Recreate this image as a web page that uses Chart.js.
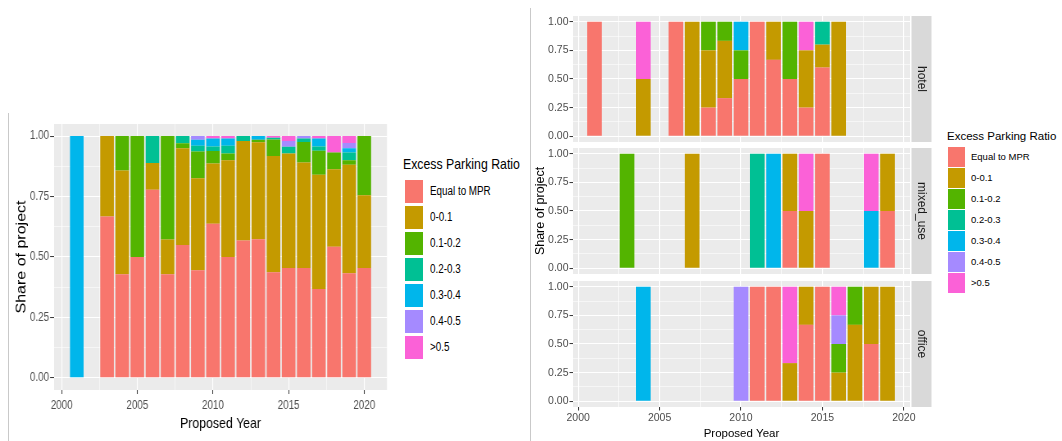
<!DOCTYPE html>
<html>
<head>
<meta charset="utf-8">
<script src="https://cdn.jsdelivr.net/npm/chart.js@4.4.1/dist/chart.umd.min.js"></script>
<style>
  html, body { margin: 0; padding: 0; background: #ffffff; }
  #page { position: relative; width: 1062px; height: 441px; overflow: hidden; background: #ffffff; }
  .rule { position: absolute; width: 1px; background: #C9C9C9; }
  canvas { position: absolute; display: block; }
  .lg { position: absolute; white-space: nowrap; color: #000000; }
  .key { position: absolute; }
  /* the overall chart is laid out wide and drawn horizontally condensed */
  #allChart { transform: scaleX(0.8195); transform-origin: 0 0; }
</style>
</head>
<body>
<div id="page">
  <div class="rule" style="left:8px; top:113px; height:328px;"></div>
  <div class="rule" style="left:530px; top:8px; height:433px;"></div>
  <canvas id="allChart" width="482" height="331" style="left:0; top:110px;"></canvas>
  <canvas id="hotelChart" width="402" height="132" style="left:530px; top:10px;"></canvas>
  <canvas id="mixedChart" width="402" height="132" style="left:530px; top:142px;"></canvas>
  <canvas id="officeChart" width="402" height="166" style="left:530px; top:275px;"></canvas>
  <div id="legendAll"></div>
  <div id="legendFacet"></div>
</div>
<script>
// ---- categories, tick labels ----
const categories = ['Equal to MPR', '0-0.1', '0.1-0.2', '0.2-0.3', '0.3-0.4', '0.4-0.5', '>0.5'];
const palette = ['#F8766D', '#C49A00', '#53B400', '#00C094', '#00B6EB', '#A58AFF', '#FB61D7'];
const xTicks = [2000, 2005, 2010, 2015, 2020];
const yTicks = [0, 0.25, 0.5, 0.75, 1];

// ---- all projects: share of projects per proposed year ----
const allYears   = [2001, 2003, 2004, 2005, 2006, 2007, 2008, 2009, 2010, 2011, 2012, 2013, 2014, 2015, 2016, 2017, 2018, 2019, 2020];
const allEqual   = [0, 0.667, 0.429, 0.5, 0.778, 0.429, 0.55, 0.445, 0.638, 0.5, 0.568, 0.573, 0.437, 0.455, 0.455, 0.368, 0.542, 0.433, 0.455];
const allR00_01  = [0, 0.333, 0.429, 0, 0.111, 0.143, 0.40, 0.381, 0.249, 0.40, 0.412, 0.402, 0.481, 0.473, 0.436, 0.472, 0.321, 0.448, 0.30];
const allR01_02  = [0, 0, 0.142, 0.5, 0, 0.428, 0.02, 0.11, 0.051, 0.028, 0, 0.01, 0.068, 0, 0.085, 0.099, 0.069, 0.019, 0.245];
const allR02_03  = [0, 0, 0, 0, 0.111, 0, 0.03, 0.024, 0.019, 0.032, 0.02, 0, 0.007, 0.028, 0.014, 0.018, 0, 0.032, 0];
const allR03_04  = [1, 0, 0, 0, 0, 0, 0, 0.025, 0.033, 0.03, 0, 0.015, 0, 0, 0, 0.033, 0, 0.018, 0];
const allR04_05  = [0, 0, 0, 0, 0, 0, 0, 0.015, 0, 0, 0, 0, 0, 0.024, 0.01, 0, 0, 0.021, 0];
const allR05     = [0, 0, 0, 0, 0, 0, 0, 0, 0.010, 0.010, 0, 0, 0.007, 0.02, 0, 0.01, 0.068, 0.029, 0];

// ---- hotel ----
const hotelYears  = [2001, 2004, 2006, 2007, 2008, 2009, 2010, 2011, 2012, 2013, 2014, 2015, 2016];
const hotelEqual  = [1, 0, 1, 0, 0.25, 0.333, 0.5, 1, 0.667, 0.5, 0.25, 0.6, 0];
const hotelR00_01 = [0, 0.5, 0, 1, 0.5, 0.5, 0, 0, 0.333, 0, 0.5, 0.2, 1];
const hotelR01_02 = [0, 0, 0, 0, 0.25, 0.167, 0.25, 0, 0, 0.5, 0, 0, 0];
const hotelR02_03 = [0, 0, 0, 0, 0, 0, 0, 0, 0, 0, 0, 0.2, 0];
const hotelR03_04 = [0, 0, 0, 0, 0, 0, 0.25, 0, 0, 0, 0, 0, 0];
const hotelR04_05 = [0, 0, 0, 0, 0, 0, 0, 0, 0, 0, 0, 0, 0];
const hotelR05    = [0, 0.5, 0, 0, 0, 0, 0, 0, 0, 0, 0.25, 0, 0];

// ---- mixed_use ----
const mixedYears  = [2003, 2007, 2011, 2012, 2013, 2014, 2015, 2018, 2019];
const mixedEqual  = [0, 0, 0, 0, 0.5, 0, 1, 0, 0.5];
const mixedR00_01 = [0, 1, 0, 0, 0.5, 0.5, 0, 0, 0.5];
const mixedR01_02 = [1, 0, 0, 0, 0, 0, 0, 0, 0];
const mixedR02_03 = [0, 0, 1, 0, 0, 0, 0, 0, 0];
const mixedR03_04 = [0, 0, 0, 1, 0, 0, 0, 0.5, 0];
const mixedR04_05 = [0, 0, 0, 0, 0, 0, 0, 0, 0];
const mixedR05    = [0, 0, 0, 0, 0, 0.5, 0, 0.5, 0];

// ---- office ----
const officeYears  = [2004, 2010, 2011, 2012, 2013, 2014, 2015, 2016, 2017, 2018, 2019];
const officeEqual  = [0, 0, 1, 1, 0, 0.667, 1, 0, 0, 0.5, 0];
const officeR00_01 = [0, 0, 0, 0, 0.333, 0.333, 0, 0.25, 0.667, 0.5, 1];
const officeR01_02 = [0, 0, 0, 0, 0, 0, 0, 0.25, 0.333, 0, 0];
const officeR02_03 = [0, 0, 0, 0, 0, 0, 0, 0, 0, 0, 0];
const officeR03_04 = [1, 0, 0, 0, 0, 0, 0, 0, 0, 0, 0];
const officeR04_05 = [0, 1, 0, 0, 0, 0, 0, 0.25, 0, 0, 0];
const officeR05    = [0, 0, 0, 0, 0.667, 0, 0, 0.25, 0, 0, 0];

// ---- fonts ----
const SANS = '"Liberation Sans", Arial, sans-serif';
Chart.defaults.font.family = SANS;

// ---- helpers ----
const isMajorX = v => xTicks.includes(v);
const isMajorY = v => yTicks.some(t => Math.abs(t - v) < 1e-9);
function withMidpoints(ticks) {
  const out = [];
  ticks.forEach((t, i) => {
    out.push(t);
    if (i < ticks.length - 1) out.push((t + ticks[i + 1]) / 2);
  });
  return out;
}

// grey panel behind the grid
const panelBackground = {
  id: 'panelBackground',
  beforeDraw(chart) {
    const { ctx, chartArea: a } = chart;
    ctx.save();
    ctx.fillStyle = '#EBEBEB';
    ctx.fillRect(a.left, a.top, a.width, a.height);
    ctx.restore();
  }
};

// facet label strip on the right edge of a panel
const facetStrip = {
  id: 'facetStrip',
  afterDraw(chart, args, opts) {
    if (!opts || !opts.text) return;
    const { ctx, chartArea: a } = chart;
    const x0 = a.right + 1.5, w = 20;
    ctx.save();
    ctx.fillStyle = '#D9D9D9';
    ctx.fillRect(x0, a.top, w, a.height);
    ctx.translate(x0 + w / 2, a.top + a.height / 2);
    ctx.rotate(Math.PI / 2);
    ctx.fillStyle = '#1A1A1A';
    ctx.font = '12px ' + SANS;
    ctx.textAlign = 'center';
    ctx.textBaseline = 'middle';
    ctx.fillText(opts.text, 0, 0);
    ctx.restore();
  }
};

function buildDatasets(years, shares) {
  return categories.map((name, k) => ({
    label: name,
    data: years.map((yr, i) => ({ x: yr, y: shares[k][i] })),
    backgroundColor: palette[k],
    borderWidth: 0,
    barPercentage: 0.9,
    categoryPercentage: 1.0
  }));
}

function makeChart(id, years, shares, o) {
  return new Chart(document.getElementById(id), {
    type: 'bar',
    data: { datasets: buildDatasets(years, shares) },
    options: {
      responsive: false,
      animation: false,
      events: [],
      layout: { padding: o.padding },
      plugins: {
        legend: { display: false },
        tooltip: { enabled: false },
        facetStrip: { text: o.strip || '' }
      },
      scales: {
        x: {
          type: 'linear', min: o.xMin, max: o.xMax, offset: false, stacked: true,
          afterBuildTicks: s => { s.ticks = withMidpoints(xTicks).map(v => ({ value: v })); },
          afterFit: s => { s.height = o.xHeight; s.paddingLeft = 0; s.paddingRight = 0; },
          border: { display: false },
          grid: {
            offset: false,
            color: '#FFFFFF',
            lineWidth: c => (c.tick && isMajorX(c.tick.value)) ? 1.1 : 0.55,
            drawTicks: o.xLabels,
            tickLength: o.xTickLen,
            tickWidth: 1,
            tickColor: c => (c.tick && isMajorX(c.tick.value)) ? '#333333' : 'rgba(0,0,0,0)'
          },
          ticks: {
            display: o.xLabels, autoSkip: false, maxRotation: 0, minRotation: 0,
            padding: o.xPad, font: o.tickFont, color: '#4D4D4D',
            callback: v => isMajorX(v) ? String(v) : ''
          },
          title: {
            display: !!o.xTitle, text: o.xTitle || '', color: '#000000',
            font: o.xTitleFont, padding: { top: 0, bottom: 0 }
          }
        },
        y: {
          type: 'linear', min: -0.05, max: 1.05, stacked: true,
          afterBuildTicks: s => { s.ticks = withMidpoints(yTicks).map(v => ({ value: v })); },
          afterFit: s => { s.width = o.yWidth; s.paddingTop = 0; s.paddingBottom = 0; },
          border: { display: false },
          grid: {
            color: '#FFFFFF',
            lineWidth: c => (c.tick && isMajorY(c.tick.value)) ? 1.1 : 0.55,
            tickLength: o.yTickLen,
            tickWidth: 1,
            tickColor: c => (c.tick && isMajorY(c.tick.value)) ? '#333333' : 'rgba(0,0,0,0)'
          },
          ticks: {
            autoSkip: false, padding: o.yPad, font: o.tickFont, color: '#4D4D4D',
            callback: v => isMajorY(v) ? v.toFixed(2) : ''
          },
          title: {
            display: !!o.yTitle, text: o.yTitle || '', color: '#000000',
            font: o.yTitleFont, padding: { top: o.yTitlePad || 0, bottom: 0 }
          }
        }
      }
    },
    plugins: [panelBackground, facetStrip]
  });
}

// ---- all projects (horizontal units are pre-condensation) ----
makeChart('allChart', allYears,
  [allEqual, allR00_01, allR01_02, allR02_03, allR03_04, allR04_05, allR05], {
    padding: { left: 0, top: 14, right: 9.8, bottom: 8 },
    xMin: 1999.5, xMax: 2021.5, xHeight: 43, yWidth: 66,
    xTickLen: 4, yTickLen: 4.9, yPad: 1.2, xLabels: true, xPad: 4,
    tickFont: { family: SANS, size: 12 },
    xTitle: 'Proposed Year', xTitleFont: { family: SANS, size: 15 },
    yTitle: 'Share of project', yTitleFont: { family: SANS, size: 16 }, yTitlePad: 16.8
  });

// ---- facets by building type ----
const facetBase = {
  padding: { left: 0, top: 6, right: 22, bottom: 0 },
  xMin: 1999.68, xMax: 2020.38, yWidth: 43, xTickLen: 3.5, yTickLen: 3.5, yPad: 1,
  tickFont: { family: SANS, size: 10.5 }
};
makeChart('hotelChart', hotelYears,
  [hotelEqual, hotelR00_01, hotelR01_02, hotelR02_03, hotelR03_04, hotelR04_05, hotelR05],
  Object.assign({}, facetBase, { xHeight: 0, xLabels: false, strip: 'hotel' }));
makeChart('mixedChart', mixedYears,
  [mixedEqual, mixedR00_01, mixedR01_02, mixedR02_03, mixedR03_04, mixedR04_05, mixedR05],
  Object.assign({}, facetBase, {
    xHeight: 0, xLabels: false, strip: 'mixed_use',
    yTitle: 'Share of project', yTitleFont: { family: SANS, size: 12.5 }, yTitlePad: 3.5
  }));
makeChart('officeChart', officeYears,
  [officeEqual, officeR00_01, officeR01_02, officeR02_03, officeR03_04, officeR04_05, officeR05],
  Object.assign({}, facetBase, {
    xHeight: 34, xLabels: true, xPad: 1, strip: 'office',
    xTitle: 'Proposed Year', xTitleFont: { family: SANS, size: 11.5 }
  }));

// ---- legends ----
function buildLegend(id, o) {
  const root = document.getElementById(id);
  const squeeze = el => {
    if (o.squeeze !== 1) {
      el.style.transform = 'scaleX(' + o.squeeze + ')';
      el.style.transformOrigin = '0 50%';
    }
  };
  const title = document.createElement('div');
  title.className = 'lg';
  title.textContent = 'Excess Parking Ratio';
  title.style.font = o.titleSize + 'px ' + SANS;
  title.style.left = o.titleX + 'px';
  title.style.top = (o.titleY - 10) + 'px';
  title.style.height = '20px';
  title.style.lineHeight = '20px';
  squeeze(title);
  root.appendChild(title);
  categories.forEach((name, k) => {
    const top = o.keyTop + k * o.keyStep;
    const key = document.createElement('div');
    key.className = 'key';
    key.style.left = o.keyX + 'px';
    key.style.top = top + 'px';
    key.style.width = o.keyW + 'px';
    key.style.height = o.keyH + 'px';
    key.style.background = palette[k];
    root.appendChild(key);
    const lab = document.createElement('div');
    lab.className = 'lg';
    lab.textContent = name;
    lab.style.font = o.labelSize + 'px ' + SANS;
    lab.style.left = o.labelX + 'px';
    lab.style.top = (top + o.keyH / 2 - 10) + 'px';
    lab.style.height = '20px';
    lab.style.lineHeight = '20px';
    squeeze(lab);
    root.appendChild(lab);
  });
}
buildLegend('legendAll', {
  squeeze: 0.82,
  titleX: 403, titleY: 164, titleSize: 15,
  keyX: 405, keyTop: 179.5, keyStep: 26, keyW: 18, keyH: 23.5,
  labelX: 430, labelSize: 12
});
buildLegend('legendFacet', {
  squeeze: 1,
  titleX: 947, titleY: 136, titleSize: 11.5,
  keyX: 948, keyTop: 147, keyStep: 21, keyW: 17, keyH: 20,
  labelX: 971, labelSize: 9.5
});
</script>
</body>
</html>
